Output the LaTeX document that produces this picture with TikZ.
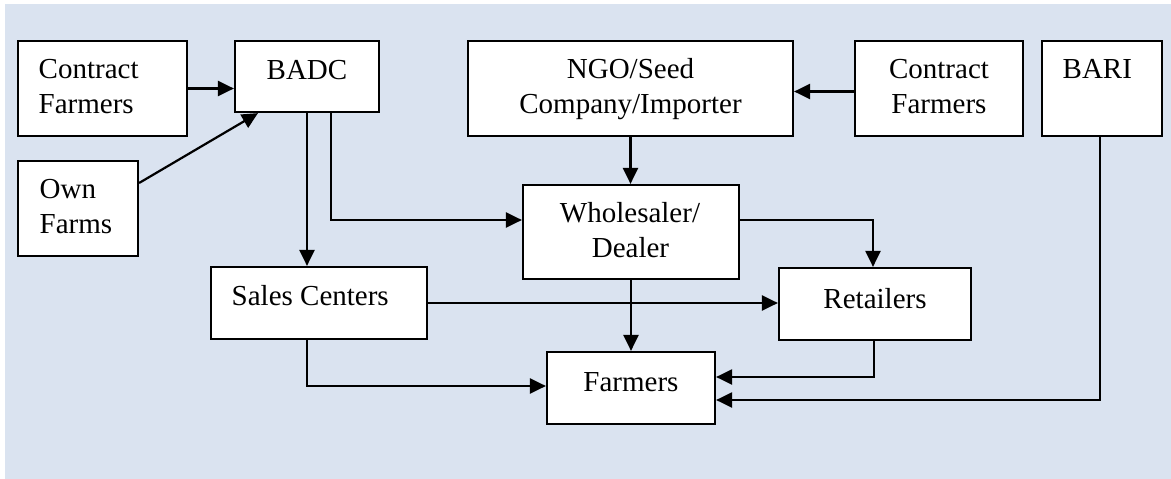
\documentclass[tikz,border=0pt]{standalone}
\usepackage{fontspec}
\setmainfont{Liberation Serif}
\usetikzlibrary{arrows.meta}
\definecolor{bgblue}{HTML}{DAE3F0}
\tikzset{
  box/.style={draw=black, fill=white, line width=2.2pt, inner sep=0pt, anchor=center},
  arr/.style={draw=black, line width=2.2pt, -{Triangle[length=16pt,width=15pt]}},
  txt/.style={inner sep=0pt, font=\fontsize{29}{34}\selectfont},
  tc/.style={txt, anchor=base},
  tl/.style={txt, anchor=base west}
}
\begin{document}
\begin{tikzpicture}[x=1pt,y=-1pt]
\useasboundingbox (0,0) rectangle (1171,479);
\fill[bgblue] (5,4) rectangle (1171,479);
% boxes
\node[box, minimum width=169pt, minimum height=95pt] (cfl) at (102.5,88.5) {};
\node[box, minimum width=144pt, minimum height=71pt] (badc) at (307,76.5) {};
\node[box, minimum width=120pt, minimum height=95pt] (own) at (78,208.5) {};
\node[box, minimum width=325pt, minimum height=95pt] (ngo) at (630.5,88.5) {};
\node[box, minimum width=168pt, minimum height=95pt] (cfr) at (939,88.5) {};
\node[box, minimum width=120pt, minimum height=95pt] (bari) at (1102,88.5) {};
\node[box, minimum width=216pt, minimum height=94pt] (whole) at (631,232) {};
\node[box, minimum width=216pt, minimum height=72pt] (sales) at (319,303) {};
\node[box, minimum width=192pt, minimum height=72pt] (ret) at (875,304) {};
\node[box, minimum width=168pt, minimum height=72pt] (farm) at (631,388) {};
% texts
\node[tl] (tcfl1) at (38.5,78) {Contract};
\node[tl] (tcfl2) at (38.5,113) {Farmers};
\node[tc] (tbadc) at (307,79) {BADC};
\node[tl] (town1) at (39.5,198) {Own};
\node[tl] (town2) at (39.5,233) {Farms};
\node[tc] (tngo1) at (630.5,78) {NGO/Seed};
\node[tc] (tngo2) at (630.5,113) {Company/Importer};
\node[tc] (tcfr1) at (939,78) {Contract};
\node[tc] (tcfr2) at (939,113) {Farmers};
\node[tl] (tbari) at (1062.5,78) {BARI};
\node[tc] (twh1) at (630,222) {Wholesaler/};
\node[tc] (twh2) at (630.5,257) {Dealer};
\node[tl] (tsales) at (231.5,305) {Sales Centers};
\node[tc] (tret) at (875,308) {Retailers};
\node[tc] (tfarm) at (631,391) {Farmers};
% connectors
\draw[arr] (cfl.east) -- (cfl.east -| badc.west);
\draw[arr] ([yshift=25.5pt]own.east) -- ([xshift=-49pt]badc.south);
\draw[arr] (badc.south) -- (badc.south |- sales.north);
\draw[arr] ([xshift=24pt]badc.south) |- ([yshift=12pt]whole.west);
\draw[arr] (ngo.south) -- (ngo.south |- whole.north);
\draw[arr] ([yshift=-3pt]cfr.west) -- ([yshift=-3pt]cfr.west -| ngo.east);
\draw[arr] ([yshift=12pt]whole.east) -| ([xshift=-2pt]ret.north);
\draw[arr] (whole.south) -- (whole.south |- farm.north);
\draw[arr] (sales.east) -- (sales.east -| ret.west);
\draw[arr] ([xshift=-12pt]sales.south) |- ([yshift=2pt]farm.west);
\draw[arr] ([xshift=-1pt]ret.south) |- ([yshift=11pt]farm.east);
\draw[arr] ([xshift=-2pt]bari.south) |- ([yshift=-12pt]farm.east);
\end{tikzpicture}
\end{document}
